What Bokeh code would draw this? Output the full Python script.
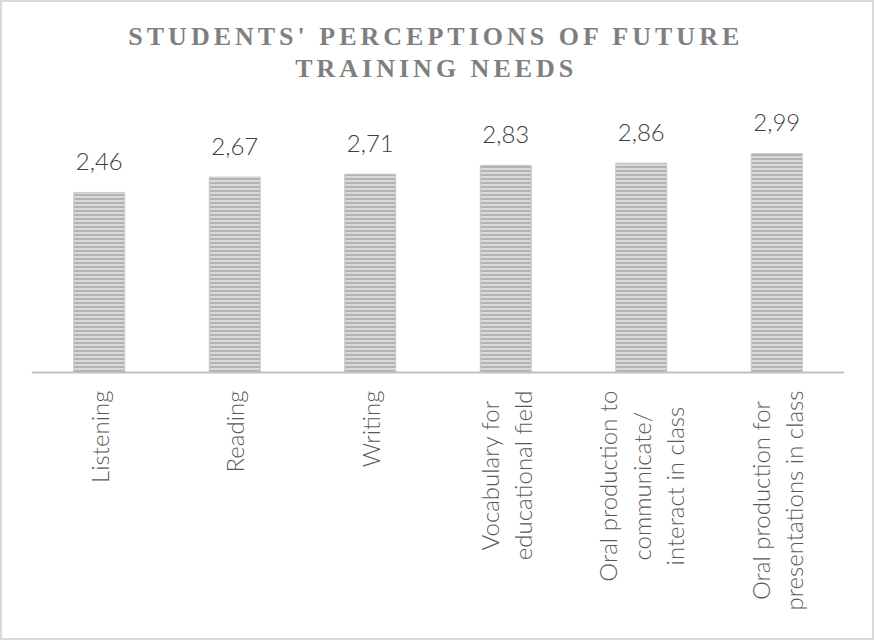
import math
from bokeh.plotting import figure
from bokeh.layouts import column
from bokeh.models import Range1d, FactorRange, ColumnDataSource, Span
from bokeh.core.properties import value
from bokeh.embed import file_html
from bokeh.resources import INLINE

categories = [
    "Listening",
    "Reading",
    "Writing",
    "Vocabulary for\neducational field",
    "Oral production to\ncommunicate/\ninteract in class",
    "Oral production for\npresentations in class",
]
scores = [2.46, 2.67, 2.71, 2.83, 2.86, 2.99]
score_labels = ["2,46", "2,67", "2,71", "2,83", "2,86", "2,99"]
title_lines = ["STUDENTS' PERCEPTIONS OF FUTURE", "TRAINING NEEDS"]

# layout constants (pixels)
W = 870
TITLE_H = 90
MAIN_H = 546
BASE_Y = 280          # baseline position inside the main figure
PX_PER_UNIT = 73.2
LETTER_SP = 4
TITLE_BASELINES = [34, 66]
LABEL_FONT = "Lato Light"

# ---- title (separate small figure so letter spacing only affects it) ----
tsrc = ColumnDataSource(dict(
    x=[W / 2 - 4] * len(title_lines),
    y=TITLE_BASELINES,
    t=title_lines,
    dx=[-(len(s) - 1) * LETTER_SP / 2 for s in title_lines],
))
tf = figure(width=W, height=TITLE_H, x_range=Range1d(0, W), y_range=Range1d(TITLE_H, 0),
            x_axis_location=None, y_axis_location=None,
            output_backend="svg", toolbar_location=None, min_border=0)
tf.outline_line_color = None
tf.xgrid.visible = False
tf.ygrid.visible = False
tf.styles = {"letter-spacing": "%dpx" % LETTER_SP}
tf.text(x="x", y="y", text="t", x_offset="dx", source=tsrc,
        text_align="center", text_baseline="alphabetic",
        text_font=value("Liberation Serif"), text_font_style="bold",
        text_font_size="26px", text_color="#7f7f7f")

# ---- main chart ----
src = ColumnDataSource(dict(cat=categories, score=scores, lab=score_labels,
                            base=[0] * len(categories)))

p = figure(
    width=W, height=MAIN_H,
    x_range=FactorRange(*categories, range_padding=0),
    y_range=Range1d(-(MAIN_H - BASE_Y) / PX_PER_UNIT, BASE_Y / PX_PER_UNIT),
    x_axis_location=None, y_axis_location=None,
    output_backend="svg", toolbar_location=None,
    min_border_left=29, min_border_right=28,
    min_border_top=0, min_border_bottom=0,
)
p.outline_line_color = None
p.xgrid.visible = False
p.ygrid.visible = False

p.vbar(x="cat", top="score", width=0.376, source=src,
       fill_color="#d9d9d9", line_color="#c8c8c8", line_width=1,
       hatch_pattern="horizontal_line", hatch_color="#a9a9a9",
       hatch_scale=4, hatch_weight=1.6)

p.add_layout(Span(location=0, dimension="width", line_color="#bfbfbf", line_width=2))

p.text(x="cat", y="score", text="lab", source=src,
       text_align="center", text_baseline="alphabetic", y_offset=-31,
       text_font=value(LABEL_FONT), text_font_size="24px", text_color="#404040")

p.text(x="cat", y="base", text="cat", source=src,
       angle=math.pi / 2, anchor="center_right", text_align="center",
       y_offset=18, text_line_height=1.15,
       text_font=value(LABEL_FONT), text_font_size="24px", text_color="#595959")

layout = column(tf, p, spacing=0, styles={"border": "2px solid #d9d9d9"})

open("out.html", "w").write(file_html(layout, INLINE))
